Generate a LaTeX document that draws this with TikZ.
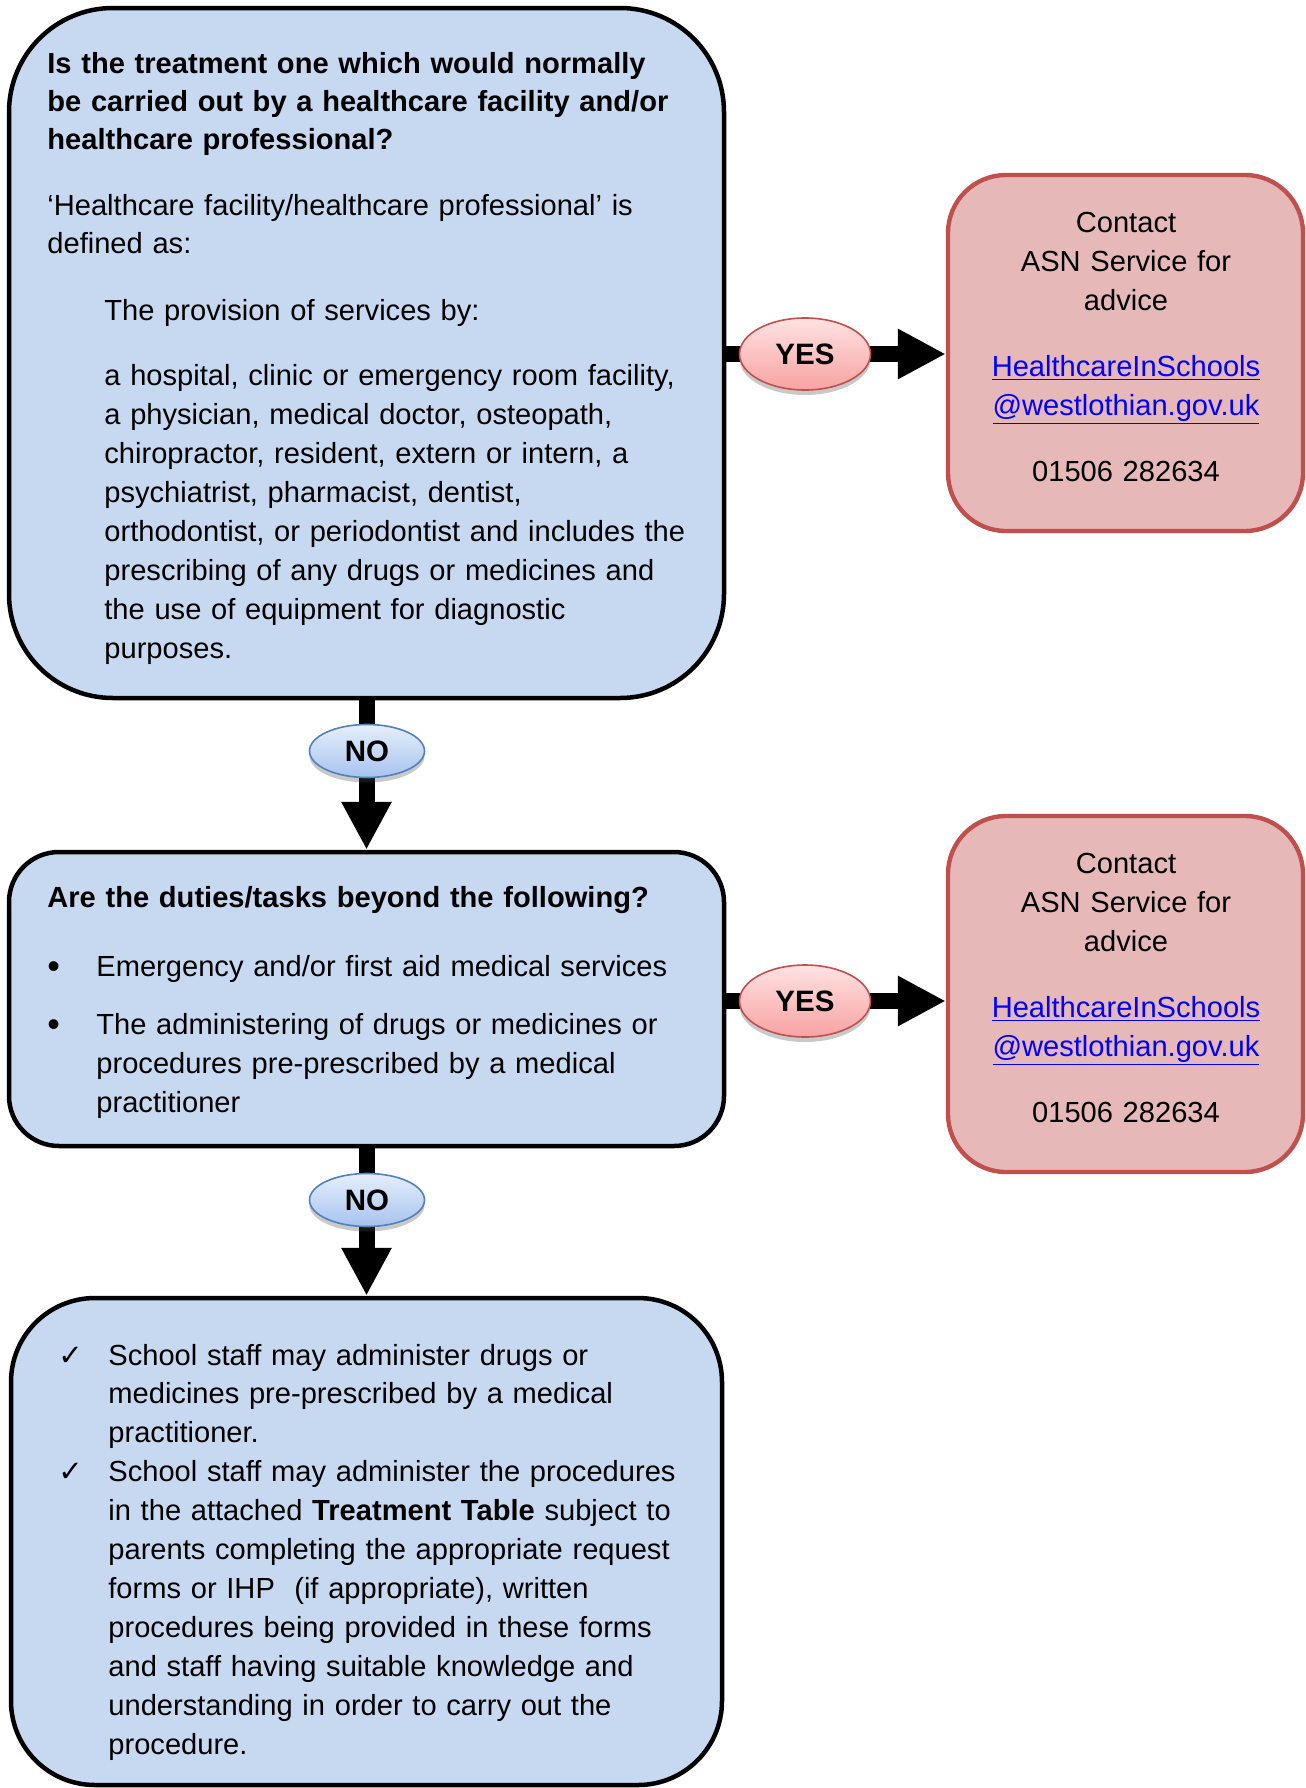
\documentclass[tikz,border=0pt]{standalone}
\usepackage{fontspec}
\setmainfont{Liberation Sans}
\newfontfamily\symfont{DejaVu Sans}
\usetikzlibrary{arrows.meta,shadows,shapes.geometric}
\definecolor{boxblue}{HTML}{C6D9F1}
\definecolor{boxred}{HTML}{E6B9B8}
\definecolor{redline}{HTML}{C0504D}
\definecolor{blueline}{HTML}{4F81BD}
\definecolor{linkblue}{HTML}{0000FF}
\definecolor{yestop}{HTML}{FFE2E2}
\definecolor{yesbot}{HTML}{F8A2A2}
\definecolor{notop}{HTML}{E6EFFB}
\definecolor{nobot}{HTML}{A6C3EF}
\begin{document}
\begin{tikzpicture}[x=0.5pt,y=-0.5pt,
  bluebox/.style={rectangle, draw=black, line width=2.25pt, fill=boxblue, inner sep=0pt},
  redbox/.style={rectangle, draw=redline, line width=2.2pt, fill=boxred, rounded corners=29pt,
    minimum width=177.5pt, minimum height=178pt, inner sep=0pt},
  txt/.style={anchor=base west, inner sep=0pt, text width=330pt, align=left,
    font=\fontsize{14.55pt}{19.5pt}\selectfont},
  ctxt/.style={anchor=base, inner sep=0pt, text width=170pt, align=center,
    font=\fontsize{14.55pt}{19.5pt}\selectfont},
  bulletmark/.style={anchor=base west, inner sep=0pt, font=\fontsize{14.55pt}{19.5pt}\selectfont},
  flow/.style={line width=8pt, -{Triangle[width=23.5pt,length=24pt]}},
  lbl/.style={ellipse, line width=0.8pt, inner sep=0pt,
    font=\fontsize{14.75pt}{17pt}\selectfont\bfseries,
    drop shadow={shadow xshift=0pt, shadow yshift=-2.5pt, opacity=0.3, fill=black!70}},
  yeslbl/.style={lbl, draw=redline, top color=yestop, bottom color=yesbot,
    minimum width=65.5pt, minimum height=36pt},
  nolbl/.style={lbl, draw=blueline, top color=notop, bottom color=nobot,
    minimum width=57.5pt, minimum height=26.5pt}
]
\useasboundingbox (0,0) rectangle (1306,1788);

% boxes
\node[bluebox, rounded corners=52pt, minimum width=357.5pt, minimum height=345pt] (q1) at (366.5,353) {};
\node[bluebox, rounded corners=25pt, minimum width=357.5pt, minimum height=147pt] (q2) at (366.5,999) {};
\node[bluebox, rounded corners=42pt, minimum width=355.5pt, minimum height=243.5pt] (q3) at (366.5,1541.5) {};
\node[redbox] (r1) at (1125.5,353) {};
\node[redbox] (r2) at (1125.5,994) {};

% connectors
\draw[flow] (q1.east |- 0,354) -- (r1.west |- 0,354);
\draw[flow] (q2.east |- 0,1001) -- (r2.west |- 0,1001);
\draw[flow] (q1.south) -- (q2.north);
\draw[flow] (q2.south) -- (q3.north);

% labels
\node[yeslbl] (yes1) at (805,354) {YES};
\node[yeslbl] (yes2) at (805,1001) {YES};
\node[nolbl] (no1) at (367,751) {NO};
\node[nolbl] (no2) at (367,1200) {NO};

% box 1 text
\node[txt, font=\fontsize{14.55pt}{19pt}\selectfont\bfseries] (t1a) at (47,73)
  {Is the treatment one which would normally\\be carried out by a healthcare facility and/or\\healthcare professional?};
\node[txt, font=\fontsize{14.55pt}{19pt}\selectfont] (t1b) at (47,215)
  {‘Healthcare facility/healthcare professional’ is\\defined as:};
\node[txt] (t1c) at (104,320) {The provision of services by:};
\node[txt] (t1d) at (104,385)
  {a hospital, clinic or emergency room facility,\\a physician, medical doctor, osteopath,\\chiropractor, resident, extern or intern, a\\psychiatrist, pharmacist, dentist,\\orthodontist, or periodontist and includes the\\prescribing of any drugs or medicines and\\the use of equipment for diagnostic\\purposes.};

% box 2 text
\node[txt, font=\fontsize{14.55pt}{19pt}\selectfont\bfseries] (t2a) at (47,907.5)
  {Are the duties/tasks beyond the following?};
\node[bulletmark, font=\fontsize{18pt}{19.5pt}\selectfont] (b1) at (47,978) {•};
\node[txt] (t2b) at (96,976) {Emergency and/or first aid medical services};
\node[bulletmark, font=\fontsize{18pt}{19.5pt}\selectfont] (b2) at (47,1036) {•};
\node[txt] (t2c) at (96,1034)
  {The administering of drugs or medicines or\\procedures pre-prescribed by a medical\\practitioner};

% box 3 text
\node[bulletmark] (c1) at (58,1365) {\symfont\bfseries ✓};
\node[bulletmark] (c2) at (58,1481) {\symfont\bfseries ✓};
\node[txt, font=\fontsize{14.55pt}{19.45pt}\selectfont] (t3) at (108,1365)
  {School staff may administer drugs or\\medicines pre-prescribed by a medical\\practitioner.\\School staff may administer the procedures\\in the attached \textbf{Treatment Table} subject to\\parents completing the appropriate request\\forms or IHP\ \ (if appropriate), written\\procedures being provided in these forms\\and staff having suitable knowledge and\\understanding in order to carry out the\\procedure.};

% contact boxes text
\node[ctxt] (r1t) at (1126,232)
  {Contact\\ASN Service for\\advice\\[13.5pt]{\color{linkblue}\underline{HealthcareInSchools}}\\{\color{linkblue}\underline{@westlothian.gov.uk}}\\[13.5pt]01506 282634};
\node[ctxt] (r2t) at (1126,873)
  {Contact\\ASN Service for\\advice\\[13.5pt]{\color{linkblue}\underline{HealthcareInSchools}}\\{\color{linkblue}\underline{@westlothian.gov.uk}}\\[13.5pt]01506 282634};
\end{tikzpicture}
\end{document}
